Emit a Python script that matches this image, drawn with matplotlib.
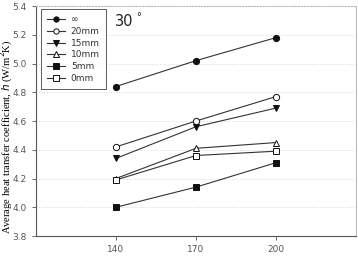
import matplotlib
matplotlib.use("Agg")
import matplotlib.pyplot as plt

power = [140, 170, 200]
labels = ["\u221e", "20mm", "15mm", "10mm", "5mm", "0mm"]
h_inf = [4.84, 5.02, 5.18]
h_20 = [4.42, 4.60, 4.77]
h_15 = [4.34, 4.56, 4.69]
h_10 = [4.20, 4.41, 4.45]
h_5 = [4.00, 4.14, 4.31]
h_0 = [4.19, 4.36, 4.39]
series = [h_inf, h_20, h_15, h_10, h_5, h_0]
markers = ["o", "o", "v", "^", "s", "s"]
filled = [True, False, True, False, True, False]
yticks = [3.8, 4.0, 4.2, 4.4, 4.6, 4.8, 5.0, 5.2, 5.4]

fig = plt.figure(figsize=(3.58, 2.70), dpi=100)
ax = fig.add_axes([36/358, 34/270, 320/358, 230/270])

for y in yticks[1:]:
    ax.axhline(y, color="#d8d8d8", lw=0.7, ls=":", zorder=0)

for vals, lab, m, f in zip(series, labels, markers, filled):
    ax.plot(power, vals, color="#333333", lw=0.8, marker=m, ms=4.5,
            mfc="#111111" if f else "white", mec="#111111", mew=0.7, label=lab)

ax.set_xlim(110, 230)
ax.set_ylim(3.8, 5.4)
ax.set_xticks(power)
ax.set_yticks(yticks)
ax.set_yticklabels([f"{v:.1f}" for v in yticks])
ax.tick_params(labelsize=6.5, colors="#555555", length=3, width=0.6)
for s in ["left", "bottom"]:
    ax.spines[s].set_color("#555555")
    ax.spines[s].set_linewidth(0.8)
ax.spines["right"].set_color("#bbbbbb")
ax.spines["right"].set_linewidth(0.8)
ax.spines["top"].set_color("#bbbbbb")
ax.spines["top"].set_linestyle(":")

ax.set_xlabel("Power (W)", fontsize=8.5, family="Liberation Serif", fontweight="bold", labelpad=12)
ax.set_ylabel(r"Average heat transfer coefficient, $\bar{h}$ (W/m$^2$K)", fontsize=7.6,
              family="Liberation Serif")
ax.yaxis.set_label_coords(-0.07, 0.43)

leg = ax.legend(loc="upper left", bbox_to_anchor=(5/320, 1 - 3/230), fontsize=6.5,
                frameon=True, fancybox=False, edgecolor="#333333", handlelength=2.0,
                labelspacing=0.3, borderaxespad=0.0, handletextpad=0.6,
                borderpad=0.7, markerscale=0.85)
leg.get_frame().set_linewidth(0.7)
for t in leg.get_texts():
    t.set_color("#333333")

ax.text(139.5, 5.345, "30", fontsize=10.5, color="#222222", ha="left", va="top")
ax.text(147.5, 5.36, "\u00b0", fontsize=7, color="#222222", ha="left", va="top")

fig.savefig("out.png", dpi=100)
